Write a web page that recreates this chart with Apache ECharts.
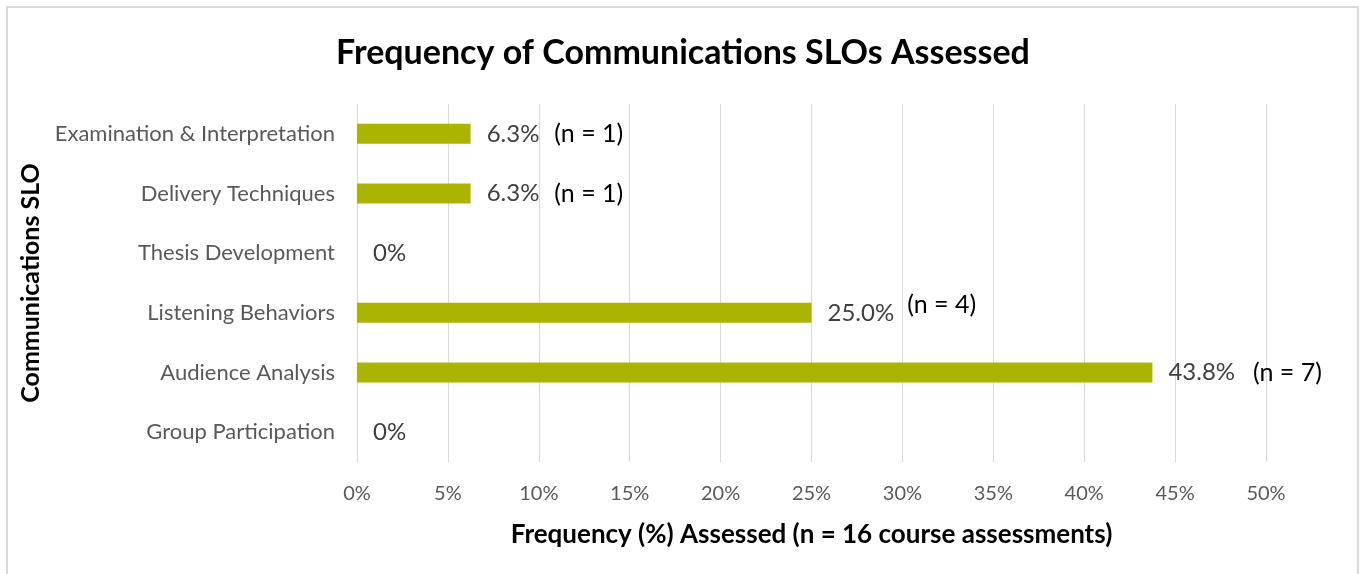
<!DOCTYPE html>
<html>
<head>
<meta charset="utf-8">
<script src="https://cdn.jsdelivr.net/npm/echarts@6/dist/echarts.min.js"></script>
<style>
html,body{margin:0;padding:0;background:#fff;}
#c{width:1366px;height:574px;}
</style>
</head>
<body>
<div id="c"></div>
<script>
var categories = ['Group Participation','Audience Analysis','Listening Behaviors','Thesis Development','Delivery Techniques','Examination & Interpretation'];
var values = [0, 43.75, 25.0, 0, 6.25, 6.25];
var valueLabels = ['0%','43.8%','25.0%','0%','6.3%','6.3%'];
var nLabels = ['','(n = 7)','(n = 4)','','(n = 1)','(n = 1)'];
var raisedN = [false,false,true,false,false,false];
var xTicks = [0,5,10,15,20,25,30,35,40,45,50];

var FONT = 'Lato, "Open Sans", sans-serif';
var chart = echarts.init(document.getElementById('c'));
chart.setOption({
  animation:false,
  backgroundColor:'#fff',
  graphic:[{type:'rect',shape:{x:7,y:7,width:1351,height:620},style:{fill:'none',stroke:'#d9d9d9',lineWidth:2},silent:true}],
  title:{text:'Frequency of Communications SLOs Assessed',left:'center',top:31,
    textStyle:{fontFamily:FONT,fontSize:34,fontWeight:'bold',color:'#000'}},
  grid:{left:357,right:100,top:104,bottom:112,containLabel:false},
  xAxis:{type:'value',min:0,max:50,interval:5,
    name:'Frequency (%) Assessed (n = 16 course assessments)',nameLocation:'middle',nameGap:60,
    nameTextStyle:{fontFamily:FONT,fontSize:26,fontWeight:'bold',color:'#000'},
    axisLine:{show:false},axisTick:{show:false},
    axisLabel:{formatter:'{value}%',fontFamily:FONT,fontSize:20,color:'#595959',margin:22},
    splitLine:{show:true,lineStyle:{color:'#d9d9d9',width:1}}},
  yAxis:{type:'category',data:categories,
    name:'Communications SLO',nameLocation:'middle',nameGap:314,nameRotate:90,
    nameTextStyle:{fontFamily:FONT,fontSize:25,fontWeight:'bold',color:'#000'},
    axisLine:{show:true,lineStyle:{color:'#d9d9d9',width:1}},axisTick:{show:false},
    axisLabel:{fontFamily:FONT,fontSize:22,color:'#595959',margin:22}},
  series:[{type:'bar',barWidth:20,
    data:values.map(function(v,i){return {value:v};}),
    itemStyle:{color:'#abb400'},
    label:{show:true,position:'right',distance:16,
      formatter:function(p){
        var i=p.dataIndex;
        if(!nLabels[i]) return '{v|'+valueLabels[i]+'}';
        return '{v|'+valueLabels[i]+'}'+(raisedN[i]?'{g2|}{r|'+nLabels[i]+'}':(i===1?'{g3|}':'{g|}')+'{n|'+nLabels[i]+'}');
      },
      rich:{
        v:{fontFamily:FONT,fontSize:24,color:'#404040'},
        g:{width:15},
        g2:{width:13},
        g3:{width:18},
        n:{fontFamily:FONT,fontSize:25,color:'#000'},
        r:{fontFamily:FONT,fontSize:25,color:'#000',padding:[0,0,16,0]}
      }}
  }]
});
</script>
</body>
</html>
